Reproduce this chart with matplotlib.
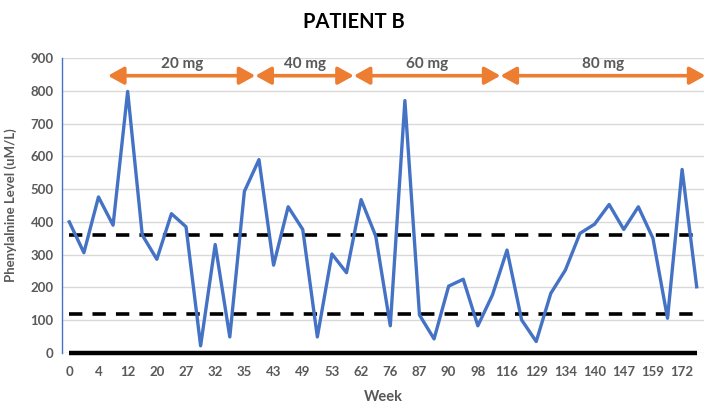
import matplotlib
matplotlib.use("Agg")
import matplotlib.pyplot as plt
import numpy as np

plt.rcParams['font.family'] = ['Lato', 'DejaVu Sans']

week_labels = ["0", "4", "12", "20", "27", "32", "35", "43", "49", "53", "62",
               "76", "87", "90", "98", "116", "129", "134", "140", "147", "159", "172"]
phe_values = [400, 306, 476, 390, 798, 360, 286, 425, 385, 22, 331, 49, 493, 590,
              268, 446, 377, 49, 302, 245, 468, 357, 83, 770, 116, 43, 204, 225,
              83, 177, 314, 101, 35, 182, 253, 365, 393, 453, 377, 446, 350, 106,
              560, 202]
upper_limit = 360
lower_limit = 120
dose_labels = ["20 mg", "40 mg", "60 mg", "80 mg"]
dose_bounds = [2.65, 12.75, 19.5, 29.55, 43.6]
arrow_level = 846

grey = "#595959"
fig = plt.figure(figsize=(7.16, 4.11), dpi=100)
ax = fig.add_axes([62/716, 1-353/411, (704-62)/716, (353-58)/411])

n = len(phe_values)
x = np.arange(n)
ax.set_xlim(-0.5, n - 0.5)
ax.set_ylim(0, 900)
ax.set_yticks(np.arange(0, 901, 100))
ax.grid(axis='y', color='#D9D9D9', lw=1)
ax.set_axisbelow(True)

dash = (0, (3.7, 2.8))
ax.plot(x, [upper_limit]*n, color='black', lw=2.6, ls=dash, zorder=3)
ax.plot(x, [lower_limit]*n, color='black', lw=2.6, ls=dash, zorder=3)
ax.plot(x, [0]*n, color='black', lw=3.2, zorder=3, solid_capstyle='butt', clip_on=False)
ax.plot(x, phe_values, color='#4472C4', lw=2.4, zorder=4)

ax.set_xticks(x[::2])
ax.set_xticklabels(week_labels)
ax.tick_params(axis='both', length=0, labelsize=9.5, labelcolor=grey)
for lbl in ax.get_xticklabels() + ax.get_yticklabels():
    lbl.set_fontweight('bold')
ax.tick_params(axis='x', pad=9)
ax.tick_params(axis='y', pad=6)

for s in ['top', 'right', 'bottom']:
    ax.spines[s].set_visible(False)
ax.spines['left'].set_color('#4472C4')
ax.spines['left'].set_linewidth(1)

for i, lab in enumerate(dose_labels):
    x0, x1 = dose_bounds[i], dose_bounds[i+1]
    ax.annotate('', xy=(x1, arrow_level), xytext=(x0, arrow_level),
                arrowprops=dict(arrowstyle='<|-|>,head_length=0.45,head_width=0.25',
                                color='#ED7D31', lw=2.6,
                                mutation_scale=21, shrinkA=0, shrinkB=0),
                annotation_clip=False)
    ax.text((x0 + x1)/2, arrow_level + 14, lab, ha='center', va='bottom',
            fontsize=11, fontweight='bold', color=grey)

ax.set_xlabel("Week", fontsize=10.5, fontweight='bold', color=grey, labelpad=9)
ax.set_ylabel("Phenylalnine Level (uM/L)", fontsize=9.5, fontweight='bold', color=grey, labelpad=10)
fig.text(354/716, 1-22/411, "PATIENT B", ha='center', va='center', fontsize=14.5,
         fontweight='bold', color='black')

fig.savefig("out.png", dpi=100)
